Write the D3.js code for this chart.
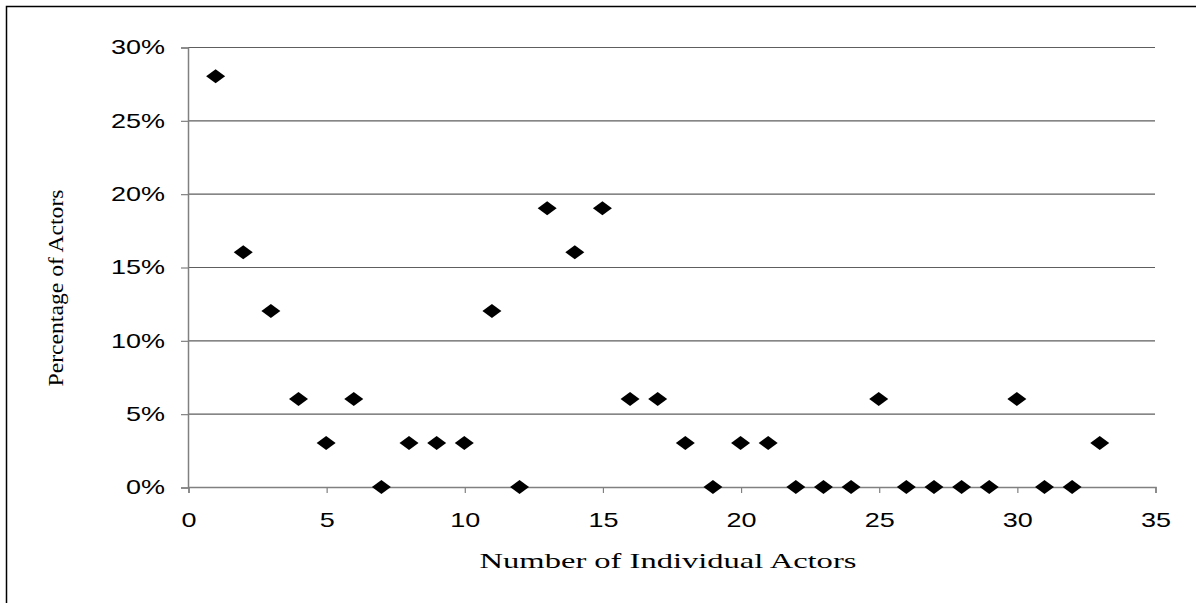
<!DOCTYPE html>
<html>
<head>
    <title>Percentage of Actors</title>
    <script src="https://d3js.org/d3.v7.min.js"></script>
    <style>
        body, html {
            margin: 0;
            background: #fff;
            overflow: hidden;
        }
        .tick text {
            font-family: "Liberation Sans", Arial, sans-serif;
            font-size: 20px;
            fill: #000;
        }
        .title {
            font-family: "Liberation Serif", "Times New Roman", serif;
            fill: #000;
        }
    </style>
</head>
<body>
<div id="chart"></div>
<script>
    // number of individual actors (x) and share of actors (y, %)
    const actors = [1, 2, 3, 4, 5, 6, 7, 8, 9, 10, 11, 12, 13, 14, 15, 16, 17,
                    18, 19, 20, 21, 22, 23, 24, 25, 26, 27, 28, 29, 30, 31, 32, 33];
    const percent = [28, 16, 12, 6, 3, 6, 0, 3, 3, 3, 12, 0, 19, 16, 19, 6, 6,
                     3, 0, 3, 3, 0, 0, 0, 6, 0, 0, 0, 0, 6, 0, 0, 3];
    const xTicks = [0, 5, 10, 15, 20, 25, 30, 35];
    const yTicks = [0, 5, 10, 15, 20, 25, 30];

    const width = 1196,
          height = 603,
          stretch = 1.35; // text in the original is stretched sideways

    const svg = d3.select("#chart")
                  .append("svg")
                  .attr("width", width)
                  .attr("height", height);

    // outer frame (runs off the right and bottom)
    svg.append("rect")
       .attr("x", 6.5).attr("y", 6.5)
       .attr("width", 1400).attr("height", 800)
       .attr("fill", "none")
       .attr("stroke", "#000")
       .attr("stroke-width", 1.5);

    const x = d3.scaleLinear().domain([0, 35]).range([188, 1155]);
    const y = d3.scaleLinear().domain([0, 30]).range([487, 47]);

    // gridlines
    svg.append("g")
       .selectAll("line")
       .data(yTicks)
       .join("line")
       .attr("x1", x(0)).attr("x2", x(35))
       .attr("y1", d => y(d) + 0.5).attr("y2", d => y(d) + 0.5)
       .attr("stroke", "#5e5e5e")
       .attr("stroke-width", 1.2);

    const yAxis = svg.append("g")
       .attr("transform", `translate(${x(0)},0.5)`)
       .call(d3.axisLeft(y).tickValues(yTicks).tickSize(7).tickPadding(16)
               .tickFormat(d => d + "%"));

    const xAxis = svg.append("g")
       .attr("transform", `translate(0.5,${y(0)})`)
       .call(d3.axisBottom(x).tickValues(xTicks).tickSize(6).tickPadding(16));

    [yAxis, xAxis].forEach(a => {
        a.select(".domain").attr("stroke", "#808080").attr("stroke-width", 1.5);
        a.selectAll(".tick line").attr("stroke", "#808080").attr("stroke-width", 1.2);
    });
    xAxis.selectAll(".tick text").attr("dy", "0.9em");

    // widen tick labels like the original
    svg.selectAll(".tick text").each(function() {
        const t = d3.select(this);
        const tx = +t.attr("x") || 0;
        t.attr("x", tx / stretch).attr("transform", `scale(${stretch},1)`);
    });

    // points
    svg.append("g")
       .selectAll("path")
       .data(actors)
       .join("path")
       .attr("d", "M0,-7L9.5,0L0,7L-9.5,0Z")
       .attr("transform", (d, i) => `translate(${x(d)},${y(percent[i])})`)
       .attr("fill", "#000");

    // axis titles, scaled to the widths seen in the original
    function fitTitle(sel, len) {
        const w = sel.node().getComputedTextLength();
        sel.attr("transform", sel.attr("transform") + ` scale(${len / w},1)`);
    }

    const xTitle = svg.append("text")
       .attr("class", "title")
       .attr("transform", "translate(668,568)")
       .attr("text-anchor", "middle")
       .attr("font-size", 22)
       .text("Number of Individual Actors");
    fitTitle(xTitle, 377);

    const yTitle = svg.append("text")
       .attr("class", "title")
       .attr("transform", "translate(63,288) rotate(-90)")
       .attr("text-anchor", "middle")
       .attr("font-size", 22)
       .text("Percentage of Actors");
    fitTitle(yTitle, 197);
</script>
</body>
</html>
